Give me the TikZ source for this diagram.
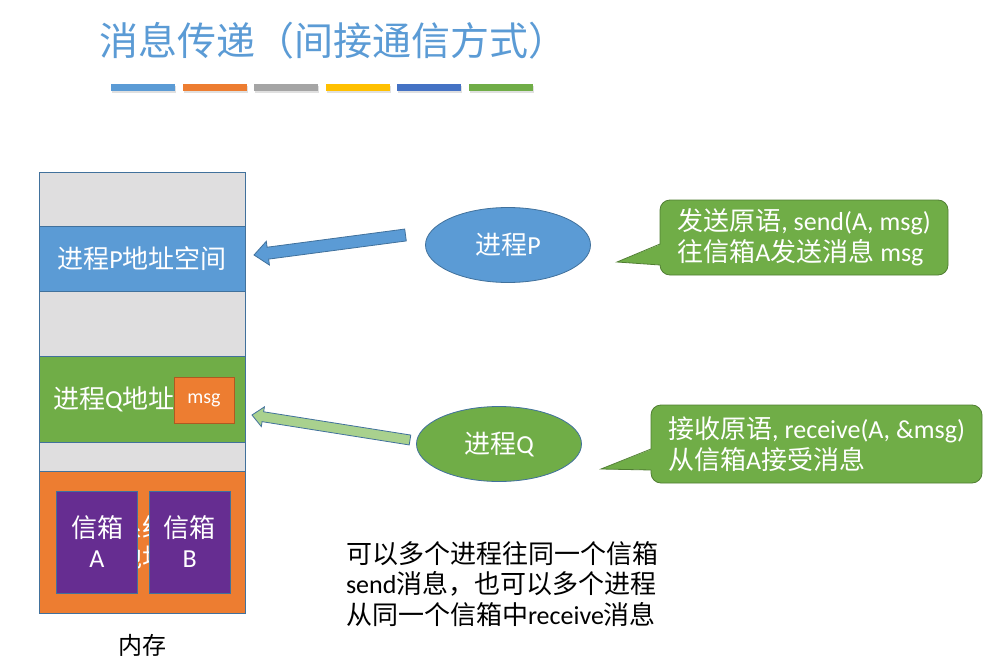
\documentclass[tikz,border=0pt]{standalone}
\usepackage{fontspec}
\setmainfont{Carlito}
\newfontfamily\cjk{Noto Sans CJK SC}
\usetikzlibrary{shapes.geometric,calc}
\definecolor{blueF}{HTML}{5B9BD5}
\definecolor{blueB}{HTML}{41719C}
\definecolor{greenF}{HTML}{70AD47}
\definecolor{greenB}{HTML}{507E32}
\definecolor{greenL}{HTML}{A9D18E}
\definecolor{orangeF}{HTML}{ED7D31}
\definecolor{orangeB}{HTML}{AE5A21}
\definecolor{grayBar}{HTML}{A5A5A5}
\definecolor{yellowBar}{HTML}{FFC000}
\definecolor{dkBlue}{HTML}{4472C4}
\definecolor{purpleF}{HTML}{662D91}
\definecolor{memGray}{HTML}{DFDEDF}
\newcommand\myblockarrow[6]{%
  \coordinate (ba-n) at ($(#2)!#5!(#1)$);
  \filldraw[#6] ($(#1)!#3!90:(#2)$) -- ($(ba-n)!#3!-90:(#1)$) -- ($(ba-n)!#4!-90:(#1)$) -- (#2)
    -- ($(ba-n)!#4!90:(#1)$) -- ($(ba-n)!#3!90:(#1)$) -- ($(#1)!#3!-90:(#2)$) -- cycle;}
\tikzset{
  memsec/.style={draw=blueB, line width=0.8pt, minimum width=206pt, minimum height=#1},
  mbox/.style={draw=blueB, line width=0.8pt, fill=purpleF, minimum width=80.6pt, minimum height=102pt,
    text=white, align=center, font=\fontsize{26}{30}\selectfont},
  procell/.style={ellipse, draw=blueB, line width=0.8pt, minimum width=165pt, minimum height=75pt,
    text=white, font=\fontsize{26}{30}\selectfont},
  callbox/.style={draw=greenB, fill=greenF, line width=0.8pt, rounded corners=10pt, text=white,
    align=left, font=\fontsize{26}{31}\selectfont},
  wtext/.style={text=white, font=\fontsize{26}{30}\selectfont}
}
\begin{document}
\begin{tikzpicture}[x=1pt,y=-1pt, every node/.style={inner sep=0pt, outer sep=0pt}]
\path[use as bounding box, fill=white] (0,0) rectangle (996,658);

% title
\node[anchor=west, text=blueF, font=\cjk\fontsize{39}{42}\selectfont] (title) at (99,41) {消息传递（间接通信方式）};
\foreach \c [count=\i] in {blueF,orangeF,grayBar,yellowBar,dkBlue,greenF}{
  \pgfmathsetmacro\xx{111+(\i-1)*71.5}
  \fill[black!12] (\xx+1,86) rectangle (\xx+65,93);
  \fill[\c] (\xx,84) rectangle (\xx+64,91);
}

% memory column
\node[memsec=54pt, fill=memGray] (m0) at (142,199) {};
\node[memsec=65pt, fill=blueF, wtext] (mP) at (142,258.5) {{\cjk 进程}P{\cjk 地址空间}};
\node[memsec=65pt, fill=memGray] (m2) at (142,323.5) {};
\node[memsec=86pt, fill=greenF] (mQ) at (142,399) {};
\node[wtext, anchor=west] (mQt) at (53,399) {{\cjk 进程}Q{\cjk 地址}};
\node[memsec=29pt, fill=memGray] (m4) at (142,456.5) {};
\node[memsec=142pt, fill=orangeF] (mK) at (142,542) {};
\begin{scope}
  \clip (137.5,480) rectangle (149,600);
  \node[text=white, align=center, font=\cjk\fontsize{26}{30}\selectfont] (mKt) at (142,542) {系统\\地址};
\end{scope}
\node[draw=orangeB, line width=0.8pt, fill=orangeF, minimum width=60pt, minimum height=46pt, text=white,
  font=\fontsize{20}{24}\selectfont] (msg) at (204,400) {msg};
\node[mbox] (boxA) at (97,542) {{\cjk 信箱}\\A};
\node[mbox] (boxB) at (189.7,542) {{\cjk 信箱}\\B};
\node[font=\cjk\fontsize{24}{28}\selectfont] (mem) at (142,645) {内存};

% processes
\node[procell, fill=blueF] (P) at (508,245) {{\cjk 进程}P};
\node[procell, fill=greenF] (Q) at (499,444) {{\cjk 进程}Q};

% block arrows
\coordinate (aPt) at ($(P.west)+(-20,-10)$);
\coordinate (aPh) at ($(mP.east)+(9,-3.5)$);
\myblockarrow{aPt}{aPh}{6pt}{12pt}{14pt}{fill=blueF, draw=blueB, line width=0.8pt}
\coordinate (aQt) at ($(Q.west)+(-6.5,-4)$);
\coordinate (aQh) at ($(mQ.east)+(7,16)$);
\myblockarrow{aQt}{aQh}{5pt}{10pt}{11pt}{fill=greenL, draw=blueB, line width=0.8pt}

% callouts
\node[callbox, minimum width=288pt, minimum height=75pt] (c1) at (804,237.5)
  {{\cjk 发送原语}, send(A, msg)\\{\cjk 往信箱}A{\cjk 发送消息} msg};
\coordinate (c1tip) at (617,262);
\fill[greenF] ($(c1.west)+(1.5,6.5)$) -- (c1tip) -- ($(c1.west)+(1.5,27.5)$) -- cycle;
\draw[greenB, line width=0.8pt] ($(c1.west)+(0,6.5)$) -- (c1tip) -- ($(c1.west)+(0,27.5)$);

\node[callbox, minimum width=331pt, minimum height=78pt] (c2) at (816.5,444)
  {{\cjk 接收原语}, receive(A, \&msg)\\{\cjk 从信箱}A{\cjk 接受消息}};
\coordinate (c2tip) at (601,469);
\fill[greenF] ($(c2.west)+(1.5,5)$) -- (c2tip) -- ($(c2.west)+(1.5,26)$) -- cycle;
\draw[greenB, line width=0.8pt] ($(c2.west)+(0,5)$) -- (c2tip) -- ($(c2.west)+(0,26)$);

% note
\node[anchor=west, align=left, font=\fontsize{26}{30.5}\selectfont] (note) at (346,584)
  {{\cjk 可以多个进程往同一个信箱}\\send{\cjk 消息，也可以多个进程}\\{\cjk 从同一个信箱中}receive{\cjk 消息}};
\end{tikzpicture}
\end{document}
